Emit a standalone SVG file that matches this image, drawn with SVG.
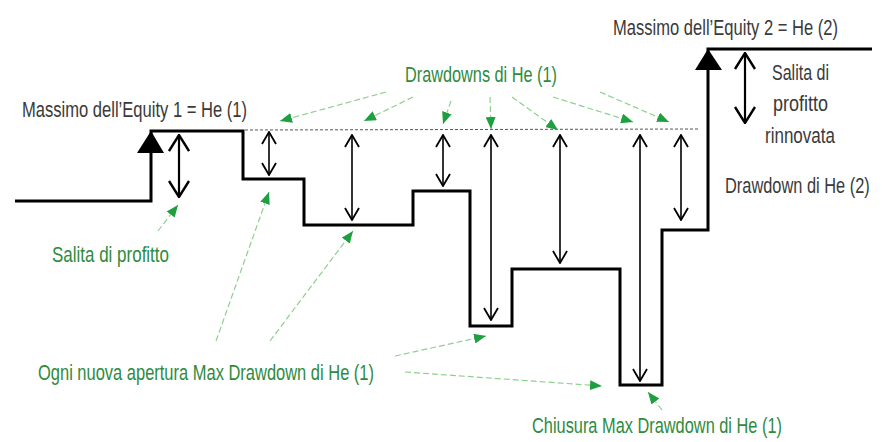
<svg xmlns="http://www.w3.org/2000/svg" width="888" height="442" viewBox="0 0 888 442">
  <style>
    .lbl { font-family: "Liberation Sans", "DejaVu Sans", sans-serif; font-size: 22.5px; fill: #3a3a3a; }
    .glbl { font-family: "Liberation Sans", "DejaVu Sans", sans-serif; font-size: 22.5px; fill: #2e8b3e; }
    .equity { fill: none; stroke: #000; stroke-width: 3; stroke-linejoin: miter; }
    .dd { stroke: #000; stroke-width: 1.6; fill: none; marker-start: url(#open-sm); marker-end: url(#open-sm); }
    .dd-big { stroke: #000; stroke-width: 2.2; fill: none; marker-start: url(#open-lg); marker-end: url(#open-lg); }
    .ptr { stroke: #8fcf8f; stroke-width: 1.2; stroke-dasharray: 6 3; fill: none; marker-end: url(#green-head); }
    .ref { stroke: #555; stroke-width: 1; stroke-dasharray: 3 2; fill: none; }
  </style>
  <defs>
    <marker id="open-sm" markerUnits="userSpaceOnUse" viewBox="0 0 14 16" refX="13" refY="8" markerWidth="14" markerHeight="16" orient="auto-start-reverse">
      <path d="M1,1 L13,8 L1,15" fill="none" stroke="#000" stroke-width="1.8"/>
    </marker>
    <marker id="open-lg" markerUnits="userSpaceOnUse" viewBox="0 0 18 22" refX="17" refY="11" markerWidth="18" markerHeight="22" orient="auto-start-reverse">
      <path d="M1,1 L17,11 L1,21" fill="none" stroke="#000" stroke-width="2.4"/>
    </marker>
    <marker id="green-head" markerUnits="userSpaceOnUse" viewBox="0 0 12 10" refX="12" refY="5" markerWidth="12" markerHeight="10" orient="auto">
      <path d="M0,0 L12,5 L0,10 z" fill="#1fa040"/>
    </marker>
  </defs>

  <!-- equity curve -->
  <g id="equity-curve">
    <path class="equity" d="M15,201 H151 V131 H243 V179 H304 V225 H413 V191 H470 V326 H512 V269 H620 V385 H662 V230 H708 V49 H872"/>
    <polygon points="137,153 164,153 151,131" fill="#000"/>
    <polygon points="695,70 722,70 708,49" fill="#000"/>
    <line class="ref" x1="245" y1="130" x2="700" y2="129"/>
  </g>

  <!-- drawdown measures -->
  <g id="measures">
    <line class="dd-big" x1="179" y1="135" x2="179" y2="197"/>
    <line class="dd" x1="269" y1="132" x2="269" y2="175"/>
    <line class="dd" x1="352" y1="135" x2="352" y2="220"/>
    <line class="dd" x1="443" y1="135" x2="443" y2="186"/>
    <line class="dd" x1="491" y1="135" x2="491" y2="320"/>
    <line class="dd" x1="560" y1="135" x2="560" y2="263"/>
    <line class="dd" x1="640" y1="135" x2="640" y2="381"/>
    <line class="dd" x1="681" y1="135" x2="681" y2="220"/>
    <line class="dd-big" x1="745" y1="53" x2="745" y2="123"/>
  </g>

  <!-- labels -->
  <g id="label-max1">
    <text class="lbl" x="22" y="117" textLength="225" lengthAdjust="spacingAndGlyphs">Massimo dell’Equity 1 = He (1)</text>
  </g>
  <g id="label-max2" transform="translate(613,35) scale(0.736,1)">
    <text class="lbl" x="0" y="0">Massimo dell’Equity 2 = He (2)</text>
  </g>
  <g id="label-salita-rinnovata">
    <text class="lbl" x="772" y="80" textLength="57" lengthAdjust="spacingAndGlyphs">Salita di</text>
    <text class="lbl" x="773" y="111" textLength="55" lengthAdjust="spacingAndGlyphs">profitto</text>
    <text class="lbl" x="765" y="143" textLength="70" lengthAdjust="spacingAndGlyphs">rinnovata</text>
  </g>
  <g id="label-drawdown2" transform="translate(725,193) scale(0.729,1)">
    <text class="lbl" x="0" y="0">Drawdown di He (2)</text>
  </g>
  <g id="label-drawdowns">
    <text class="glbl" x="405" y="82" textLength="152" lengthAdjust="spacingAndGlyphs">Drawdowns di He (1)</text>
  </g>
  <g id="label-salita">
    <text class="glbl" x="52" y="262" textLength="117" lengthAdjust="spacingAndGlyphs">Salita di profitto</text>
  </g>
  <g id="label-apertura">
    <text class="glbl" x="38" y="380" textLength="336" lengthAdjust="spacingAndGlyphs">Ogni nuova apertura Max Drawdown di He (1)</text>
  </g>
  <g id="label-chiusura">
    <text class="glbl" x="532" y="433" textLength="250" lengthAdjust="spacingAndGlyphs">Chiusura Max Drawdown di He (1)</text>
  </g>

  <!-- pointers -->
  <g id="pointers">
    <line class="ptr" x1="386" y1="92" x2="280" y2="121"/>
    <line class="ptr" x1="413" y1="97" x2="364" y2="121"/>
    <line class="ptr" x1="451" y1="101" x2="443" y2="124"/>
    <line class="ptr" x1="490" y1="97" x2="491" y2="129"/>
    <line class="ptr" x1="512" y1="97" x2="558" y2="130"/>
    <line class="ptr" x1="553" y1="97" x2="633" y2="122"/>
    <line class="ptr" x1="600" y1="92" x2="669" y2="122"/>
    <line class="ptr" x1="158" y1="231" x2="178" y2="205"/>
    <line class="ptr" x1="216" y1="341" x2="269" y2="192"/>
    <line class="ptr" x1="270" y1="341" x2="353" y2="231"/>
    <line class="ptr" x1="395" y1="356" x2="486" y2="336"/>
    <line class="ptr" x1="405" y1="372" x2="602" y2="386"/>
    <line class="ptr" x1="662" y1="410" x2="648" y2="392"/>
  </g>
</svg>
